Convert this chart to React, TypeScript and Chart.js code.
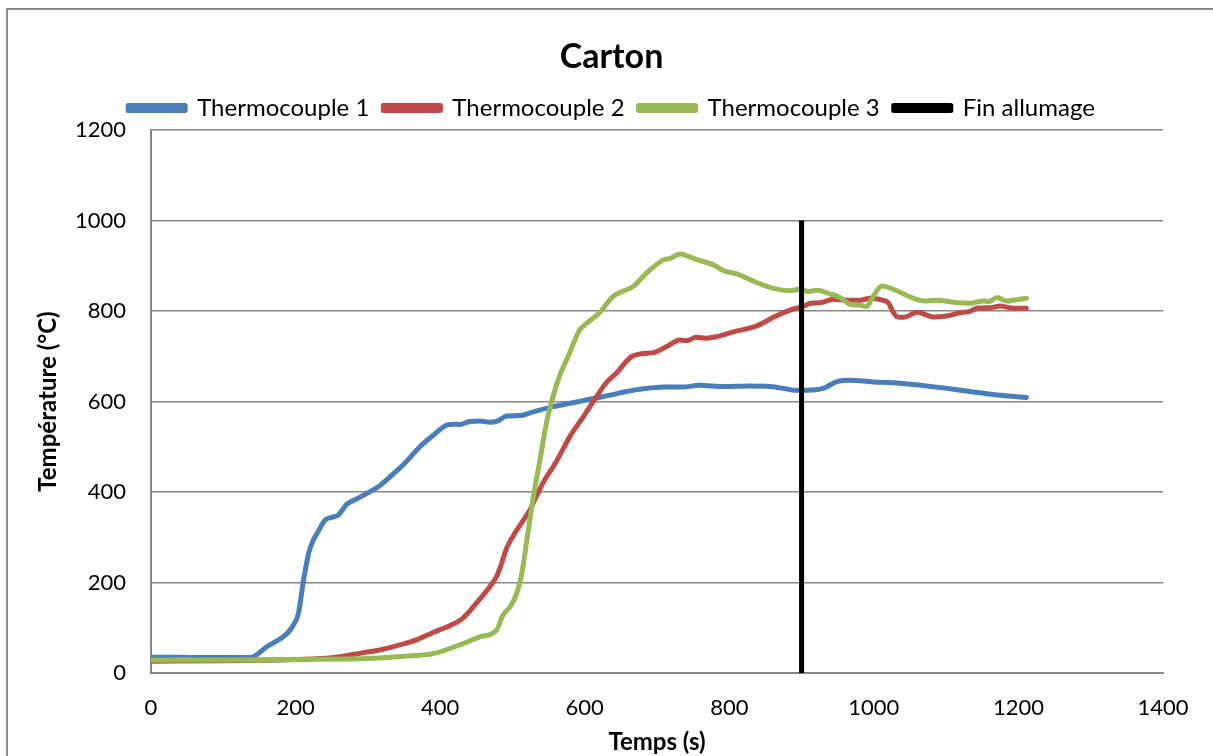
import React, { useEffect, useRef } from "react";
import { Chart, registerables } from "chart.js";

Chart.register(...registerables);

const chartTitle = "Carton";
const xTitle = "Temps (s)";
const yTitle = "Température (°C)";
const seriesNames = ["Thermocouple 1", "Thermocouple 2", "Thermocouple 3", "Fin allumage"];
const seriesColors = ["#4a7ebb", "#be4b48", "#98b954", "#000000"];

const t1 = [0, 40, 80, 120, 140, 150, 160, 170, 180, 190, 197, 204, 211, 218, 224, 231, 241, 250, 259, 271, 285, 300, 315, 331, 349, 372, 391, 409, 420, 427, 441, 455, 469, 480, 492, 510, 529, 552, 580, 607, 635, 658, 681, 709, 736, 759, 792, 829, 856, 875, 889, 907, 930, 949, 967, 981, 1000, 1018, 1040, 1064, 1101, 1133, 1174, 1211];
const v1 = [35, 35, 34, 34, 35, 45, 58, 67, 77, 90, 106, 132, 205, 264, 292, 312, 338, 344, 349, 373, 385, 398, 412, 434, 460, 500, 526, 548, 550, 549, 556, 557, 554, 557, 568, 569, 577, 587, 596, 605, 614, 622, 628, 632, 632, 636, 633, 634, 633, 629, 625, 625, 629, 644, 647, 646, 643, 642, 640, 636, 629, 622, 614, 609];

const t2 = [0, 100, 150, 200, 250, 294, 320, 344, 370, 391, 414, 432, 451, 469, 478, 485, 492, 501, 512, 524, 533, 543, 561, 580, 598, 612, 630, 644, 663, 681, 695, 713, 732, 741, 754, 768, 782, 806, 838, 861, 884, 902, 912, 925, 944, 962, 981, 995, 1012, 1020, 1026, 1032, 1041, 1060, 1082, 1101, 1119, 1133, 1142, 1165, 1174, 1193, 1211];
const v2 = [26, 27, 28, 30, 34, 45, 52, 62, 75, 90, 105, 122, 156, 191, 213, 242, 276, 303, 330, 360, 390, 422, 468, 524, 566, 600, 642, 663, 697, 706, 708, 721, 736, 734, 742, 740, 743, 754, 767, 786, 802, 810, 817, 818, 826, 824, 824, 828, 824, 818, 800, 787, 786, 797, 787, 789, 796, 799, 806, 808, 811, 806, 806];

const t3 = [0, 100, 200, 298, 350, 391, 427, 455, 478, 487, 497, 506, 513, 520, 529, 538, 547, 556, 566, 577, 593, 603, 621, 639, 652, 667, 685, 709, 718, 732, 754, 778, 792, 810, 838, 861, 884, 898, 909, 921, 939, 953, 967, 981, 990, 999, 1011, 1027, 1055, 1073, 1087, 1115, 1133, 1151, 1160, 1170, 1184, 1197, 1211];
const v3 = [29, 29, 30, 32, 37, 43, 62, 80, 95, 128, 147, 176, 220, 294, 390, 470, 552, 610, 660, 699, 758, 773, 797, 832, 843, 854, 883, 913, 916, 926, 914, 902, 889, 882, 863, 850, 845, 848, 843, 846, 838, 830, 815, 813, 810, 832, 855, 848, 828, 822, 824, 818, 817, 822, 821, 830, 822, 825, 828];

const t4 = [900, 900];
const v4 = [0, 1000];

const xMin = 0;
const xMax = 1400;
const xStep = 200;
const yMin = 0;
const yMax = 1200;
const yStep = 200;

const toPoints = (xs: number[], ys: number[]) => xs.map((x, i) => ({ x, y: ys[i] }));

export default function App() {
  const canvasRef = useRef<HTMLCanvasElement | null>(null);

  useEffect(() => {
    if (!canvasRef.current) return;
    const font = "Lato, 'Open Sans', sans-serif";
    const series = [toPoints(t1, v1), toPoints(t2, v2), toPoints(t3, v3), toPoints(t4, v4)];
    const orders = [3, 2, 1, 0];
    const chart = new Chart(canvasRef.current, {
      type: "line",
      data: {
        datasets: series.map((data, i) => ({
          label: seriesNames[i],
          data,
          borderColor: seriesColors[i],
          backgroundColor: seriesColors[i],
          borderWidth: 5,
          pointRadius: 0,
          pointHoverRadius: 0,
          cubicInterpolationMode: "monotone",
          borderJoinStyle: "round",
          borderCapStyle: i === 3 ? "butt" : "round",
          fill: false,
          order: orders[i],
        })),
      },
      options: {
        responsive: false,
        animation: false,
        events: [],
        layout: { padding: { top: 0, left: 52, right: 50, bottom: 0 } },
        plugins: {
          title: {
            display: true,
            text: chartTitle,
            color: "#000",
            font: { family: font, size: 34, weight: "bold" },
            padding: { top: 18.6, bottom: 4.6 },
          },
          legend: {
            display: true,
            position: "top",
            labels: {
              color: "#000",
              font: { family: font, size: 24 },
              boxWidth: 57,
              boxHeight: 5,
              padding: 14,
              sort: (a: any, b: any) => a.datasetIndex - b.datasetIndex,
            },
          },
          tooltip: { enabled: false },
        },
        scales: {
          x: {
            type: "linear",
            min: xMin,
            max: xMax,
            ticks: {
              stepSize: xStep,
              color: "#000",
              font: { family: font, size: 22 },
              padding: 22,
              maxRotation: 0,
              callback: (v: any) => String(v),
            },
            grid: { display: false, drawTicks: false },
            border: { display: true, color: "#868686", width: 2 },
            title: {
              display: true,
              text: xTitle,
              color: "#000",
              font: { family: font, size: 24, weight: "bold" },
              padding: { top: 0, bottom: -1 },
            },
            afterFit: (s: any) => {
              s.height = 83;
            },
          },
          y: {
            type: "linear",
            min: yMin,
            max: yMax,
            ticks: {
              stepSize: yStep,
              color: "#000",
              font: { family: font, size: 22 },
              padding: 25,
              callback: (v: any) => String(v),
            },
            grid: { color: "#868686", lineWidth: 1.5, drawTicks: false },
            border: { display: true, color: "#868686", width: 2 },
            title: {
              display: true,
              text: yTitle,
              color: "#000",
              font: { family: font, size: 24, weight: "bold" },
              padding: { top: -26.4, bottom: 0 },
            },
            afterFit: (s: any) => {
              s.width = 91;
              s.paddingTop = 122;
            },
          },
        },
      } as any,
    });
    return () => chart.destroy();
  }, []);

  return (
    <div style={{ position: "fixed", left: 0, top: 0, width: 1213, height: 756, overflow: "hidden", background: "#fff" }}>
      <div
        style={{
          position: "absolute",
          left: 6,
          top: 8,
          width: 1400,
          height: 1000,
          border: "2px solid #8c8c8c",
          boxSizing: "border-box",
        }}
      />
      <canvas
        ref={canvasRef}
        width={1205}
        height={748}
        style={{ position: "absolute", left: 8, top: 8, width: 1205, height: 748 }}
      />
    </div>
  );
}
